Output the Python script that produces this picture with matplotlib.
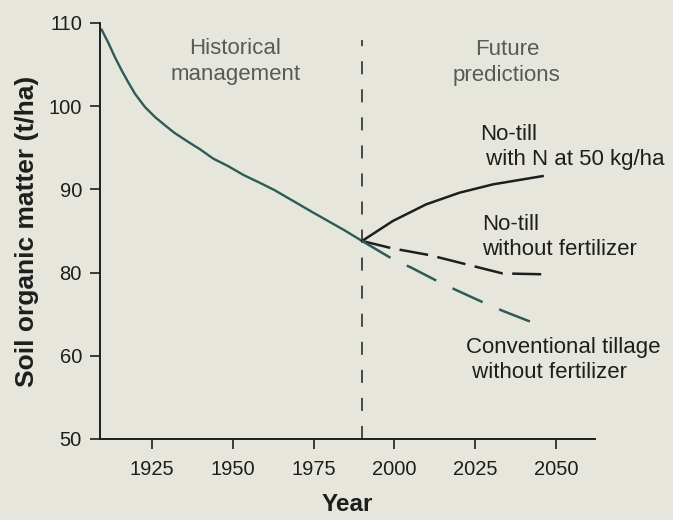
import numpy as np
import matplotlib
matplotlib.use("Agg")
import matplotlib.pyplot as plt

plt.rcParams['font.family'] = ['Liberation Sans', 'DejaVu Sans']
plt.rcParams['lines.scale_dashes'] = False

# --- data ---
hist_years = [1909.5, 1911.6, 1913.6, 1915.7, 1917.7, 1919.8, 1922.9, 1926.0,
              1929.1, 1932.0, 1936.3, 1940.0, 1944.0, 1948.6, 1953.5, 1958.9,
              1963.0, 1969.2, 1974.5, 1979.5, 1984.5, 1990.0]
hist_som = [109.2, 107.6, 105.9, 104.3, 102.9, 101.5, 99.9, 98.7,
            97.7, 96.8, 95.7, 94.8, 93.7, 92.8, 91.7, 90.7,
            89.9, 88.5, 87.3, 86.2, 85.1, 83.8]

nt_n_years = [1990.0, 1999.5, 2009.8, 2020.1, 2030.4, 2045.8]
nt_n_som = [83.8, 86.2, 88.2, 89.6, 90.6, 91.6]

nt_nofert_years = [1990.0, 1999.5, 2010.9, 2033.4, 2045.8]
nt_nofert_som = [83.8, 82.9, 82.1, 79.8, 79.6]

conv_years = [1990.0, 2000.0, 2005.2, 2013.9, 2019.1, 2028.4, 2033.5, 2042.7]
conv_som = [83.8, 81.5, 80.6, 77.7, 75.8, 72.5, 70.8, 68.0]

divider_year = 1990
divider_top = 108

x_ticks = [1925, 1950, 1975, 2000, 2025, 2050]
y_ticks = [50, 60, 80, 90, 100, 110]

# the printed y axis puts its ticks at equal spacing (broken scale)
tick_pos = np.arange(len(y_ticks), dtype=float)

def fwd(v):
    return np.interp(v, y_ticks, tick_pos)

def inv(p):
    return np.interp(p, tick_pos, y_ticks)

bg = '#e7e6dc'
teal = '#2d5b56'
ink = '#1e1e1e'
soft = '#555b58'

fig = plt.figure(figsize=(6.73, 5.2), dpi=100, facecolor=bg)
ax = fig.add_axes([100/673, 1-439/520, 495/673, 416/520], facecolor=bg)
ax.set_yscale('function', functions=(fwd, inv))

ax.plot([divider_year, divider_year], [50, divider_top], color=ink, lw=1.1,
        dashes=(9.4, 10.8))
ax.plot(hist_years, hist_som, color=teal, lw=1.7, solid_joinstyle='round')
ax.plot(nt_n_years, nt_n_som, color=ink, lw=1.8, solid_joinstyle='round')
ax.plot(nt_nofert_years, nt_nofert_som, color=ink, lw=1.8, dashes=(20.9, 6.8))
ax.plot(conv_years, conv_som, color=teal, lw=1.8, dashes=(23.8, 13))

ax.set_xlim(1909, 2062)
ax.set_ylim(50, 110)
ax.set_xticks(x_ticks)
ax.set_yticks(y_ticks)
ax.yaxis.set_minor_locator(matplotlib.ticker.NullLocator())
ax.tick_params(axis='both', direction='out', length=7, width=1.2,
               color=ink, labelcolor=ink, labelsize=14.5)
ax.tick_params(axis='y', pad=6)
ax.tick_params(axis='x', pad=8)
for s in ['top', 'right']:
    ax.spines[s].set_visible(False)
for s in ['left', 'bottom']:
    ax.spines[s].set_linewidth(1.4)
    ax.spines[s].set_color(ink)

ax.set_xlabel('Year', fontsize=17.5, fontweight='bold', color=ink, labelpad=10)
ax.set_ylabel('Soil organic matter (t/ha)', fontsize=19, fontweight='bold',
              color=ink, labelpad=7)

ax.text(0.273, 0.907, 'Historical\nmanagement', transform=ax.transAxes,
        ha='center', va='center', fontsize=16, color=soft, linespacing=1.3)
ax.text(0.822, 0.905, 'Future\npredictions', transform=ax.transAxes,
        ha='center', va='center', fontsize=16, color=soft, linespacing=1.3)
ax.text(0.768, 0.703, 'No-till\n with N at 50 kg/ha', transform=ax.transAxes,
        ha='left', va='center', fontsize=16, color=ink, linespacing=1.25)
ax.text(0.771, 0.486, 'No-till\nwithout fertilizer', transform=ax.transAxes,
        ha='left', va='center', fontsize=16, color=ink, linespacing=1.25)
ax.text(0.739, 0.191, 'Conventional tillage\n without fertilizer',
        transform=ax.transAxes, ha='left', va='center', fontsize=16, color=ink,
        linespacing=1.25)

fig.savefig('out.png', dpi=100, facecolor=bg)
